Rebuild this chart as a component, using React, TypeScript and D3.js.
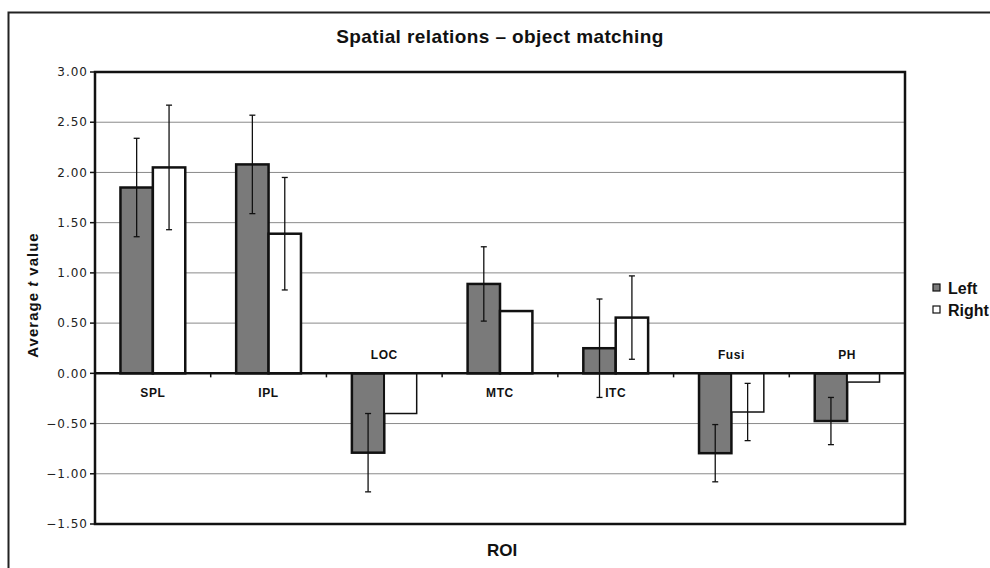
import React from "react";
import * as d3 from "d3";

const categories = ["SPL", "IPL", "LOC", "MTC", "ITC", "Fusi", "PH"];
const series = ["Left", "Right"];
const leftValues = [1.85, 2.08, -0.79, 0.89, 0.25, -0.795, -0.475];
const rightValues = [2.05, 1.39, -0.4, 0.62, 0.555, -0.385, -0.087];
const leftErrors: (number | null)[] = [0.49, 0.49, 0.39, 0.37, 0.49, 0.285, 0.235];
const rightErrors: (number | null)[] = [0.62, 0.56, null, null, 0.415, 0.285, null];
const yTicks = [3.0, 2.5, 2.0, 1.5, 1.0, 0.5, 0.0, -0.5, -1.0, -1.5];
const colors = ["#7a7a7a", "#ffffff"];

const W = 990;
const H = 568;
const plot = { left: 95, top: 72, right: 905, bottom: 524 };

export default function App() {
  const y = d3.scaleLinear().domain([-1.5, 3]).range([plot.bottom, plot.top]);
  const x0 = d3
    .scaleBand<string>()
    .domain(categories)
    .range([plot.left, plot.right])
    .paddingInner(0.44)
    .paddingOuter(0.22);
  const x1 = d3.scaleBand<string>().domain(series).range([0, x0.bandwidth()]);
  const step = (plot.right - plot.left) / categories.length;
  const vals = [leftValues, rightValues];
  const errs = [leftErrors, rightErrors];
  const fmt = (v: number) => (v < 0 ? "\u2212" + Math.abs(v).toFixed(2) : v.toFixed(2));

  return (
    <svg
      width={W}
      height={H}
      style={{ position: "absolute", left: 0, top: 0, background: "#fff" }}
    >
      {/* outer frame */}
      <path d={`M8.5,${H} V12.5 H${W}`} fill="none" stroke="#222" strokeWidth={2} />
      <text
        x={500}
        y={43}
        textAnchor="middle"
        fontFamily="Liberation Sans, Arial, sans-serif"
        fontWeight="bold"
        fontSize={19}
        letterSpacing={0.4}
        fill="#111"
      >
        Spatial relations – object matching
      </text>

      {/* gridlines */}
      {yTicks.map((t) => (
        <line
          key={"g" + t}
          x1={plot.left}
          x2={plot.right}
          y1={y(t)}
          y2={y(t)}
          stroke="#8a8a8a"
          strokeWidth={1}
        />
      ))}

      {/* y ticks & labels */}
      {yTicks.map((t) => (
        <g key={"t" + t}>
          <line x1={plot.left - 5} x2={plot.left} y1={y(t)} y2={y(t)} stroke="#111" strokeWidth={1.5} />
          <text
            x={plot.left - 7}
            y={y(t)}
            dy="0.35em"
            textAnchor="end"
            fontFamily="DejaVu Sans, Verdana, sans-serif"
            fontSize={12}
            letterSpacing={1}
            fill="#222"
          >
            {fmt(t)}
          </text>
        </g>
      ))}

      {/* bars */}
      {categories.map((c, i) => (
        <g key={c}>
          {series.map((s, j) => {
            const v = vals[j][i];
            const bx = (x0(c) as number) + (x1(s) as number);
            const bw = x1.bandwidth();
            const y0 = y(0);
            const yv = y(v);
            return (
              <rect
                key={s}
                x={bx}
                y={Math.min(y0, yv)}
                width={bw}
                height={Math.abs(yv - y0)}
                fill={colors[j]}
                stroke="#111"
                strokeWidth={j === 0 ? 2.5 : Math.abs(v) > 0.5 ? 2.5 : 1.5}
              />
            );
          })}
        </g>
      ))}

      {/* error bars */}
      {categories.map((c, i) =>
        series.map((s, j) => {
          const e = errs[j][i];
          if (e == null) return null;
          const v = vals[j][i];
          const cx = (x0(c) as number) + (x1(s) as number) + x1.bandwidth() / 2;
          return (
            <g key={c + s + "e"} stroke="#111" strokeWidth={1.3}>
              <line x1={cx} x2={cx} y1={y(v + e)} y2={y(v - e)} />
              <line x1={cx - 3} x2={cx + 3} y1={y(v + e)} y2={y(v + e)} />
              <line x1={cx - 3} x2={cx + 3} y1={y(v - e)} y2={y(v - e)} />
            </g>
          );
        })
      )}

      {/* zero axis */}
      <line x1={plot.left} x2={plot.right} y1={y(0)} y2={y(0)} stroke="#111" strokeWidth={2.5} />
      {d3.range(1, categories.length).map((k) => (
        <line
          key={"xt" + k}
          x1={plot.left + step * k}
          x2={plot.left + step * k}
          y1={y(0)}
          y2={y(0) + 4}
          stroke="#111"
          strokeWidth={1.5}
        />
      ))}

      {/* plot frame */}
      <rect
        x={plot.left}
        y={plot.top}
        width={plot.right - plot.left}
        height={plot.bottom - plot.top}
        fill="none"
        stroke="#111"
        strokeWidth={2.5}
      />

      {/* category labels */}
      {categories.map((c, i) => {
        const cx = plot.left + step * (i + 0.5);
        const above = leftValues[i] < 0;
        return (
          <text
            key={"l" + c}
            x={cx}
            y={above ? y(0) - 14 : y(0) + 24}
            textAnchor="middle"
            fontFamily="Liberation Sans, Arial, sans-serif"
            fontWeight="bold"
            fontSize={12}
            letterSpacing={0.6}
            fill="#111"
          >
            {c}
          </text>
        );
      })}

      {/* axis titles */}
      <text
        transform={`translate(38,295) rotate(-90)`}
        textAnchor="middle"
        fontFamily="Liberation Sans, Arial, sans-serif"
        fontWeight="bold"
        fontSize={15}
        letterSpacing={1}
        fill="#111"
      >
        Average <tspan fontStyle="italic">t</tspan> value
      </text>
      <text
        x={502}
        y={556}
        textAnchor="middle"
        fontFamily="Liberation Sans, Arial, sans-serif"
        fontWeight="bold"
        fontSize={17}
        fill="#111"
      >
        ROI
      </text>

      {/* legend */}
      {series.map((s, j) => (
        <g key={"lg" + s} transform={`translate(933,${288 + j * 22})`}>
          <rect x={0} y={-4} width={7} height={7} fill={colors[j]} stroke="#111" strokeWidth={1.2} />
          <text
            x={15}
            y={0}
            dy="0.35em"
            fontFamily="Liberation Sans, Arial, sans-serif"
            fontWeight="bold"
            fontSize={16}
            fill="#111"
          >
            {s}
          </text>
        </g>
      ))}
    </svg>
  );
}
